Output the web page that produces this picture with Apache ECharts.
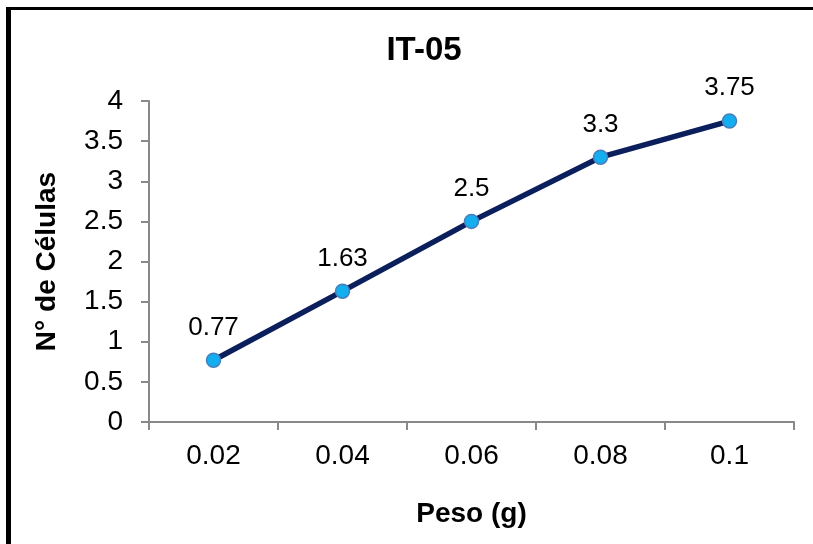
<!DOCTYPE html>
<html><head><meta charset="utf-8">
<script src="https://cdn.jsdelivr.net/npm/echarts@6/dist/echarts.min.js"></script>
<style>
html,body{margin:0;padding:0;background:#fff;}
#wrap{position:absolute;left:0;top:0;width:813px;height:544px;overflow:hidden;}
#frame{position:absolute;left:6px;top:7px;width:900px;height:700px;border-top:3px solid #000;border-left:5px solid #000;}
#chart{position:absolute;left:0;top:0;width:813px;height:544px;}
</style></head>
<body>
<div id="wrap"><div id="frame"></div><div id="chart"></div></div>
<script>
const categories = ['0.02','0.04','0.06','0.08','0.1'];
const values = [0.77, 1.63, 2.5, 3.3, 3.75];
const title = 'IT-05';
const xName = 'Peso (g)';
const yName = 'N° de Células';

const chart = echarts.init(document.getElementById('chart'), null, {renderer:'canvas'});
const font = 'Liberation Sans, Arial, sans-serif';
chart.setOption({
  backgroundColor: 'transparent',
  animation: false,
  title: {text: title, left: 419, top: 29, textAlign: 'center',
    textStyle: {fontFamily: font, fontSize: 33, fontWeight: 'bold', color: '#000'}},
  grid: {left: 149, right: 19, top: 101, bottom: 122},
  xAxis: {
    type: 'category', data: categories, boundaryGap: true,
    name: xName, nameLocation: 'middle', nameGap: 78,
    nameTextStyle: {fontFamily: font, fontSize: 28, fontWeight: 'bold', color: '#000'},
    axisLine: {lineStyle: {color: '#898989', width: 2}},
    axisTick: {show: true, length: 8, lineStyle: {color: '#898989', width: 2}},
    axisLabel: {fontFamily: font, fontSize: 28, color: '#000', margin: 20}
  },
  yAxis: {
    type: 'value', min: 0, max: 4, interval: 0.5,
    name: yName, nameLocation: 'middle', nameGap: 88, nameRotate: 90,
    nameTextStyle: {fontFamily: font, fontSize: 28, fontWeight: 'bold', color: '#000'},
    axisLine: {show: true, lineStyle: {color: '#898989', width: 2}},
    axisTick: {show: true, length: 8, lineStyle: {color: '#898989', width: 2}},
    splitLine: {show: false},
    axisLabel: {fontFamily: font, fontSize: 28, color: '#000', margin: 26}
  },
  series: [{
    type: 'line', data: values,
    lineStyle: {color: '#0b1f5c', width: 5.5},
    symbol: 'circle', symbolSize: 14,
    itemStyle: {color: '#12aeef', borderColor: '#4a7ebb', borderWidth: 1.5},
    label: {show: true, position: 'top', distance: 12, fontFamily: font, fontSize: 26, color: '#000'}
  }]
});
</script>
</body></html>
